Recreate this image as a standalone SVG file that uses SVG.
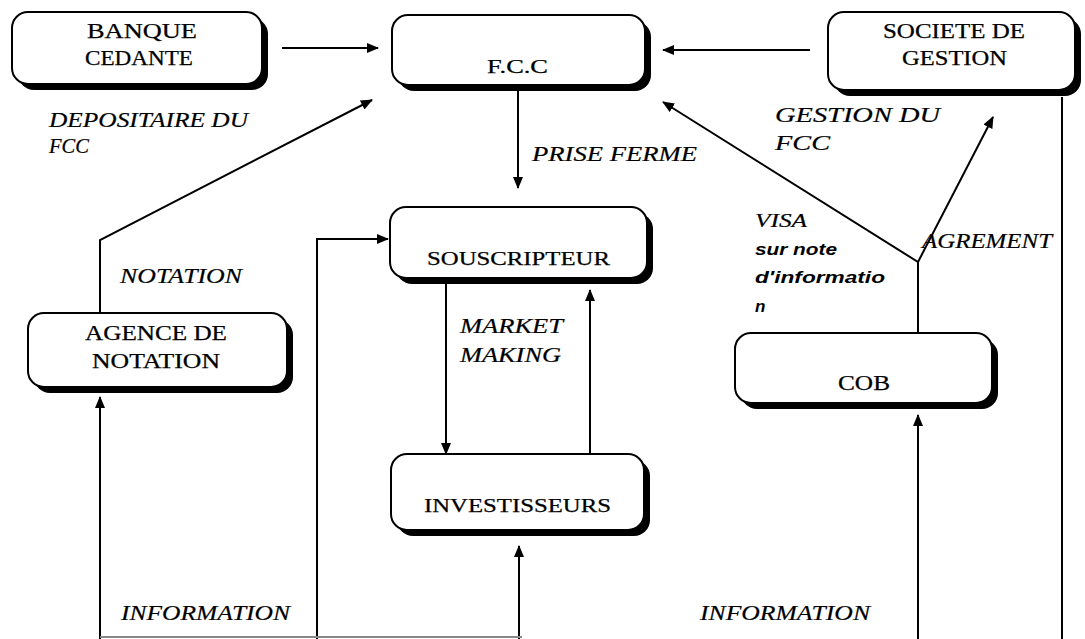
<svg xmlns="http://www.w3.org/2000/svg" width="1085" height="639" viewBox="0 0 1085 639">
  <style>
    .box { fill: #fff; stroke: #000; stroke-width: 2; }
    .shadow { fill: #000; }
    .node { font-family: "Times New Roman", "Liberation Serif", "DejaVu Serif", serif; fill: #000; stroke: #000; stroke-width: 0.25; }
    .lbl { font-family: "Times New Roman", "Liberation Serif", "DejaVu Serif", serif; font-style: italic; fill: #000; stroke: #000; stroke-width: 0.2; }
    .lbl2 { font-family: "Liberation Sans", Arial, sans-serif; font-style: italic; font-weight: bold; fill: #000; }
    .wire { fill: none; stroke: #000; stroke-width: 2; }
  </style>
  <defs>
    <marker id="arr" markerUnits="userSpaceOnUse" markerWidth="12" markerHeight="10" refX="11" refY="5" orient="auto">
      <path d="M0,0 L12,5 L0,10 z" fill="#000"/>
    </marker>
  </defs>
  <rect width="1085" height="639" fill="#fff"/>

  <!-- connectors -->
  <g id="connectors">
    <line class="wire" x1="282" y1="48" x2="378" y2="48" marker-end="url(#arr)"/>
    <line class="wire" x1="810" y1="50" x2="663" y2="50" marker-end="url(#arr)"/>
    <polyline class="wire" points="100,313 100,240 372,100" marker-end="url(#arr)"/>
    <polyline class="wire" points="918,333 918,262 663,102" marker-end="url(#arr)"/>
    <line class="wire" x1="918" y1="262" x2="993" y2="117" marker-end="url(#arr)"/>
    <line class="wire" x1="518" y1="86" x2="518" y2="188" marker-end="url(#arr)"/>
    <polyline class="wire" points="317,639 317,239 388,239" marker-end="url(#arr)"/>
    <line class="wire" x1="446" y1="284" x2="446" y2="454" marker-end="url(#arr)"/>
    <line class="wire" x1="590" y1="454" x2="590" y2="290" marker-end="url(#arr)"/>
    <line class="wire" x1="100" y1="639" x2="100" y2="397" marker-end="url(#arr)"/>
    <line class="wire" x1="519" y1="639" x2="519" y2="546" marker-end="url(#arr)"/>
    <line class="wire" x1="918" y1="639" x2="918" y2="415" marker-end="url(#arr)"/>
    <line class="wire" x1="1062" y1="97" x2="1062" y2="639"/>
    <line x1="100" y1="637" x2="522" y2="637" stroke="#888" stroke-width="2"/>
  </g>

  <!-- nodes -->
  <g id="banque">
    <rect class="shadow" x="18" y="18" width="250" height="72" rx="16"/>
    <rect class="box" x="12" y="12" width="250" height="72" rx="16"/>
    <text class="node" x="87" y="38" font-size="21" textLength="110" lengthAdjust="spacingAndGlyphs">BANQUE</text>
    <text class="node" x="85" y="65" font-size="21" textLength="108" lengthAdjust="spacingAndGlyphs">CEDANTE</text>
  </g>
  <g id="fcc">
    <rect class="shadow" x="398" y="21" width="253" height="70" rx="16"/>
    <rect class="box" x="392" y="15" width="253" height="70" rx="16"/>
    <text class="node" x="487" y="73" font-size="19" textLength="61" lengthAdjust="spacingAndGlyphs">F.C.C</text>
  </g>
  <g id="societe">
    <rect class="shadow" x="834" y="18" width="247" height="78" rx="16"/>
    <rect class="box" x="828" y="12" width="247" height="78" rx="16"/>
    <text class="node" x="883" y="38" font-size="20" textLength="142" lengthAdjust="spacingAndGlyphs">SOCIETE DE</text>
    <text class="node" x="902" y="65" font-size="20" textLength="105" lengthAdjust="spacingAndGlyphs">GESTION</text>
  </g>
  <g id="souscripteur">
    <rect class="shadow" x="396" y="213" width="257" height="71" rx="16"/>
    <rect class="box" x="390" y="207" width="257" height="71" rx="16"/>
    <text class="node" x="427" y="265" font-size="19.5" textLength="183" lengthAdjust="spacingAndGlyphs">SOUSCRIPTEUR</text>
  </g>
  <g id="agence">
    <rect class="shadow" x="34" y="319" width="259" height="74" rx="16"/>
    <rect class="box" x="28" y="313" width="259" height="74" rx="16"/>
    <text class="node" x="85" y="340" font-size="20" textLength="142" lengthAdjust="spacingAndGlyphs">AGENCE DE</text>
    <text class="node" x="92" y="368" font-size="20" textLength="128" lengthAdjust="spacingAndGlyphs">NOTATION</text>
  </g>
  <g id="cob">
    <rect class="shadow" x="741" y="339" width="257" height="70" rx="16"/>
    <rect class="box" x="735" y="333" width="257" height="70" rx="16"/>
    <text class="node" x="838" y="390" font-size="20" textLength="52" lengthAdjust="spacingAndGlyphs">COB</text>
  </g>
  <g id="investisseurs">
    <rect class="shadow" x="397" y="460" width="253" height="76" rx="16"/>
    <rect class="box" x="391" y="454" width="253" height="76" rx="16"/>
    <text class="node" x="424" y="512" font-size="19.5" textLength="187" lengthAdjust="spacingAndGlyphs">INVESTISSEURS</text>
  </g>

  <!-- connector labels -->
  <g id="labels">
    <text class="lbl" x="49" y="127" font-size="21" textLength="199" lengthAdjust="spacingAndGlyphs">DEPOSITAIRE DU</text>
    <text class="lbl" x="49" y="153" font-size="21" textLength="40" lengthAdjust="spacingAndGlyphs">FCC</text>
    <text class="lbl" x="532" y="161" font-size="22" textLength="165" lengthAdjust="spacingAndGlyphs">PRISE FERME</text>
    <text class="lbl" x="775" y="122" font-size="21" textLength="165" lengthAdjust="spacingAndGlyphs">GESTION DU</text>
    <text class="lbl" x="775" y="150" font-size="21" textLength="55" lengthAdjust="spacingAndGlyphs">FCC</text>
    <text class="lbl" x="120" y="283" font-size="22" textLength="122" lengthAdjust="spacingAndGlyphs">NOTATION</text>
    <text class="lbl" x="460" y="333" font-size="20" textLength="103" lengthAdjust="spacingAndGlyphs">MARKET</text>
    <text class="lbl" x="460" y="362" font-size="20" textLength="101" lengthAdjust="spacingAndGlyphs">MAKING</text>
    <text class="lbl" x="755" y="227" font-size="19" textLength="52" lengthAdjust="spacingAndGlyphs">VISA</text>
    <text class="lbl2" x="755" y="255" font-size="17" textLength="82" lengthAdjust="spacingAndGlyphs">sur note</text>
    <text class="lbl2" x="755" y="283" font-size="17" textLength="130" lengthAdjust="spacingAndGlyphs">d'informatio</text>
    <text class="lbl2" x="755" y="312" font-size="17">n</text>
    <text class="lbl" x="922" y="248" font-size="21" textLength="130" lengthAdjust="spacingAndGlyphs">AGREMENT</text>
    <text class="lbl" x="121" y="620" font-size="21" textLength="169" lengthAdjust="spacingAndGlyphs">INFORMATION</text>
    <text class="lbl" x="700" y="620" font-size="21" textLength="170" lengthAdjust="spacingAndGlyphs">INFORMATION</text>
  </g>
</svg>
